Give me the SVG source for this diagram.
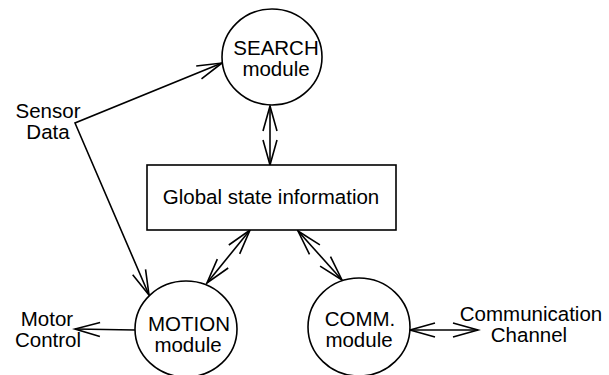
<svg xmlns="http://www.w3.org/2000/svg" width="609" height="375" viewBox="0 0 609 375">
  <style>
    .node { fill: #fff; stroke: #000; stroke-width: 1.6; }
    .lbl { font-family: "Liberation Sans", Arial, sans-serif; font-size: 20.5px; fill: #000; text-anchor: middle; }
    .edge { fill: none; stroke: #000; stroke-width: 1.6; }
  </style>
  <defs>
    <marker id="head" markerUnits="userSpaceOnUse" markerWidth="40" markerHeight="40" refX="0" refY="0" orient="auto-start-reverse" overflow="visible">
      <path d="M -25 -7 L 0 0 L -25 7" fill="none" stroke="#000" stroke-width="1.6"/>
    </marker>
  </defs>

  <rect width="609" height="375" fill="#fff"/>

  <!-- connectors -->
  <g id="connectors">
    <polyline class="edge" points="222,63 75,123 149,295" marker-start="url(#head)" marker-end="url(#head)"/>
    <line class="edge" x1="270" y1="106" x2="270" y2="165" marker-start="url(#head)" marker-end="url(#head)"/>
    <line class="edge" x1="250" y1="230" x2="207" y2="283" marker-start="url(#head)" marker-end="url(#head)"/>
    <line class="edge" x1="298" y1="231" x2="342" y2="280" marker-start="url(#head)" marker-end="url(#head)"/>
    <line class="edge" x1="135" y1="330" x2="75" y2="329" marker-end="url(#head)"/>
    <line class="edge" x1="410" y1="330" x2="478" y2="330" marker-start="url(#head)" marker-end="url(#head)"/>
  </g>

  <g id="search">
    <ellipse class="node" cx="272" cy="57" rx="50" ry="48"/>
    <text class="lbl" x="276" y="55">SEARCH</text>
    <text class="lbl" x="276" y="76">module</text>
  </g>

  <g id="global-state">
    <rect class="node" x="147" y="165" width="249" height="65"/>
    <text class="lbl" x="271" y="204">Global state information</text>
  </g>

  <g id="motion">
    <ellipse class="node" cx="186" cy="329" rx="51" ry="48"/>
    <text class="lbl" x="189" y="331">MOTION</text>
    <text class="lbl" x="188" y="352">module</text>
  </g>

  <g id="comm">
    <ellipse class="node" cx="359" cy="327" rx="51" ry="49"/>
    <text class="lbl" x="360" y="326">COMM.</text>
    <text class="lbl" x="359" y="347">module</text>
  </g>

  <g id="sensor-data">
    <text class="lbl" x="48" y="118">Sensor</text>
    <text class="lbl" x="48" y="139">Data</text>
  </g>

  <g id="motor-control">
    <text class="lbl" x="47" y="326">Motor</text>
    <text class="lbl" x="48" y="347">Control</text>
  </g>

  <g id="channel">
    <text class="lbl" x="531" y="321">Communication</text>
    <text class="lbl" x="529" y="342">Channel</text>
  </g>
</svg>
